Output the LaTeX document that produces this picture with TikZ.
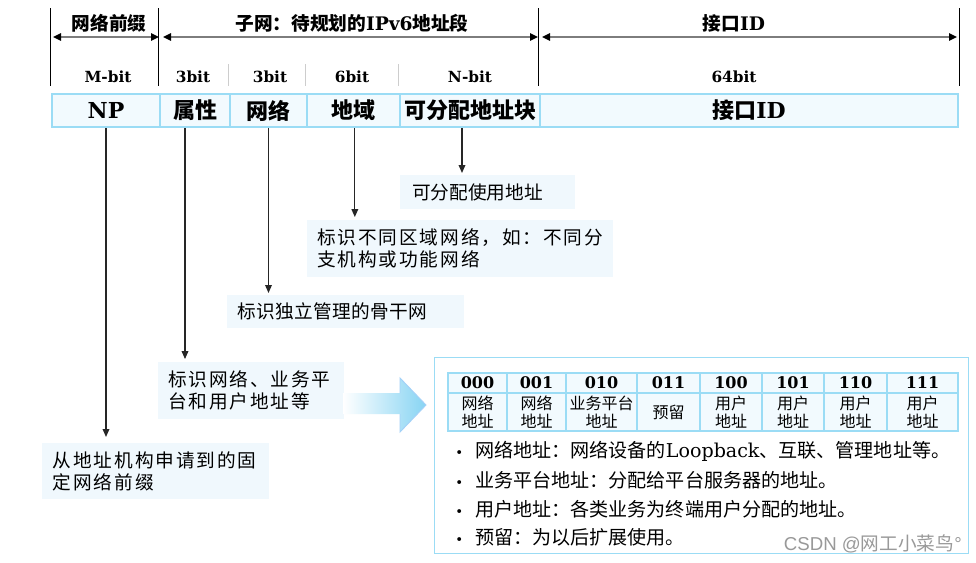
\documentclass[tikz,border=0pt]{standalone}
\usepackage{fontspec}
\setmainfont{DejaVu Serif}
\newfontfamily\cjk{Noto Sans CJK SC}
\newfontfamily\cjkwide{Noto Sans CJK SC}[LetterSpace=10]
\newfontfamily\cjkmid{Noto Sans CJK SC}[LetterSpace=2]
\newfontfamily\wmfont{Liberation Sans}
\usetikzlibrary{arrows.meta}
\definecolor{lb}{RGB}{155,220,245}
\definecolor{cellfill}{RGB}{242,250,254}
\definecolor{boxfill}{RGB}{240,248,253}
\definecolor{dimgray}{RGB}{125,125,125}
\definecolor{divgray}{RGB}{205,205,205}
\definecolor{arrowblue}{RGB}{135,212,243}
\tikzset{
  barcell/.style={draw=lb, line width=2pt, fill=cellfill, inner sep=0pt, minimum height=24.75pt,
    font=\fontsize{16.5}{18}\selectfont\bfseries},
  hdr/.style={font=\fontsize{14}{16}\selectfont\bfseries, inner sep=0pt},
  bitlab/.style={font=\fontsize{11.5}{13}\selectfont\bfseries, inner sep=0pt},
  vline/.style={line width=1.1pt, black},
  divline/.style={line width=0.8pt, divgray},
  dimarr/.style={draw=dimgray, line width=1.5pt,
    {Triangle[length=6pt,width=5.5pt,color=black]}-{Triangle[length=6pt,width=5.5pt,color=black]}},
  desc/.style={fill=boxfill, anchor=north west, align=left, inner ysep=0pt},
  dfont/.style={font=\fontsize{14}{16.5}\selectfont\cjk},
  dwide/.style={font=\fontsize{14}{16.5}\selectfont\cjkwide},
  dmid/.style={font=\fontsize{14}{16.5}\selectfont\cjkmid},
  conn/.style={draw=black!85, line width=0.9pt, -{Triangle[length=6pt,width=5pt]}},
  tcell/.style={draw=lb, line width=0.8pt, fill=cellfill, inner sep=0pt},
  tcode/.style={font=\fontsize{12}{13}\selectfont\bfseries},
  tbody/.style={font=\fontsize{12}{13.5}\selectfont\cjk, align=center},
  bul/.style={anchor=west, inner sep=0pt, font=\fontsize{14.3}{16}\selectfont},
}
\begin{document}
\begin{tikzpicture}[x=0.75pt,y=-0.75pt]
\fill[white] (0,0) rectangle (976,562);
\useasboundingbox (0,0) rectangle (976,562);

% main bar
\node[barcell, minimum width=81pt] (np) at (106,110.5) {NP};
\node[barcell, minimum width=52.5pt] (attr) at (195,110.5) {\cjk 属性};
\node[barcell, minimum width=57.75pt] (net) at (268.5,110.5) {\cjk 网络};
\node[barcell, minimum width=69.75pt] (reg) at (353.5,110.5) {\cjk 地域};
\node[barcell, minimum width=105pt] (alloc) at (470,110.5) {\cjk 可分配地址块};
\node[barcell, minimum width=313.5pt] (iid) at (749,110.5) {{\cjk 接口}ID};

% top lines
\draw[vline] (np.north west) ++(0,-7) -- ++(0,-78);
\draw[vline] (attr.north west) ++(0,-7) -- ++(0,-78);
\draw[vline] (iid.north west) ++(0,-7) -- ++(0,-78);
\draw[vline] (iid.north east) ++(0,-7) -- ++(0,-78);
\draw[divline] (net.north west) ++(0,-7) -- ++(0,-22);
\draw[divline] (reg.north west) ++(0,-7) -- ++(0,-22);
\draw[divline] (alloc.north west) ++(0,-7) -- ++(0,-22);

\coordinate (a0) at (53,37);
\coordinate (a1) at (159,37);
\coordinate (a2) at (163,37);
\coordinate (a3) at (538,37);
\coordinate (a4) at (542,37);
\coordinate (a5) at (957,37);
\draw[dimarr] (a0) -- (a1);
\draw[dimarr] (a2) -- (a3);
\draw[dimarr] (a4) -- (a5);

\node[hdr] (h1) at (109,23) {\cjk 网络前缀};
\node[hdr] (h2) at (352,23) {{\cjk 子网：待规划的}IPv6{\cjk 地址段}};
\node[hdr] (h3) at (734,23) {{\cjk 接口}ID};

\node[bitlab] (l1) at (108,77) {M-bit};
\node[bitlab] (l2) at (193,77) {3bit};
\node[bitlab] (l3) at (270,77) {3bit};
\node[bitlab] (l4) at (352,77) {6bit};
\node[bitlab] (l5) at (470,77) {N-bit};
\node[bitlab] (l6) at (734,77) {64bit};

% description boxes
\node[desc, dfont, minimum width=131.25pt, minimum height=25.5pt, inner xsep=9pt, text width=113.25pt] (d1) at (400,175) {可分配使用地址};
\node[desc, dwide, minimum width=229.5pt, minimum height=42.75pt, inner xsep=7.5pt, text width=214.5pt] (d2) at (307,220) {标识不同区域网络，如：不同分\\支机构或功能网络};
\node[desc, dmid, minimum width=177.75pt, minimum height=24.75pt, inner xsep=7.5pt, text width=162.75pt] (d3) at (227,295) {标识独立管理的骨干网};
\node[desc, dwide, minimum width=139.5pt, minimum height=42.75pt, inner xsep=7.5pt, text width=124.5pt] (d4) at (158,362) {标识网络、业务平\\台和用户地址等};
\node[desc, dwide, minimum width=170.25pt, minimum height=42pt, inner xsep=8pt, text width=154.25pt] (d5) at (42,443) {从地址机构申请到的固\\定网络前缀};

% connectors
\coordinate (attrdrop) at ([xshift=-7.5pt]attr.south);
\coordinate (allocdrop) at ([xshift=-6pt]alloc.south);
\coordinate (regdrop) at ([xshift=1pt]reg.south);
\draw[conn, shorten >=4.5pt] (np.south) -- (np.south |- d5.north);
\draw[conn, shorten >=2.2pt] (attrdrop) -- (attrdrop |- d4.north);
\draw[conn, shorten >=1.5pt] (net.south) -- (net.south |- d3.north);
\draw[conn, shorten >=2.2pt] (regdrop) -- (regdrop |- d2.north);
\draw[conn, shorten >=1.5pt] (allocdrop) -- (allocdrop |- d1.north);

% big arrow
\shade[left color=white, right color=arrowblue] (343,393) -- (400,393) -- (400,378) -- (426,405) -- (400,432) -- (400,414) -- (343,414) -- cycle;
\draw[lb!90!blue!80, line width=0.7pt, line join=miter] (400,393) -- (400,378) -- (426,405) -- (400,432) -- (400,414);

% right panel
\node[draw=lb, line width=1pt, minimum width=400.5pt, minimum height=147pt, anchor=north west, inner sep=0pt] (panel) at (434,357) {};

\foreach \xa/\xb/\code/\lab [count=\i] in {
  448/507/000/{网络\\地址},
  507/566/001/{网络\\地址},
  566/637/010/{业务平台\\地址},
  637/700/011/{预留},
  700/762/100/{用户\\地址},
  762/824/101/{用户\\地址},
  824/887/110/{用户\\地址},
  887/958/111/{用户\\地址}} {
  \node[tcell, tcode, minimum width={(\xb-\xa)*0.75pt}, minimum height=15pt] (hc\i) at ({(\xa+\xb)/2},383) {\code};
  \node[tcell, tbody, minimum width={(\xb-\xa)*0.75pt}, minimum height=28.5pt] (bc\i) at ({(\xa+\xb)/2},412) {\lab};
}

\node[bul] (b1) at (455,451) {\makebox[15pt][l]{\fontsize{10}{10}\selectfont•}{\cjk 网络地址：网络设备的}Loopback{\cjk 、互联、管理地址等。}};
\node[bul] (b2) at (455,480) {\makebox[15pt][l]{\fontsize{10}{10}\selectfont•}{\cjk 业务平台地址：分配给平台服务器的地址。}};
\node[bul] (b3) at (455,509) {\makebox[15pt][l]{\fontsize{10}{10}\selectfont•}{\cjk 用户地址：各类业务为终端用户分配的地址。}};
\node[bul] (b4) at (455,537) {\makebox[15pt][l]{\fontsize{10}{10}\selectfont•}{\cjk 预留：为以后扩展使用。}};

\node[anchor=east, inner sep=0pt, text=black!40, font=\fontsize{14}{16}\selectfont\wmfont] (wm) at (962,544) {CSDN @{\cjk 网工小菜鸟}°};
\end{tikzpicture}
\end{document}
